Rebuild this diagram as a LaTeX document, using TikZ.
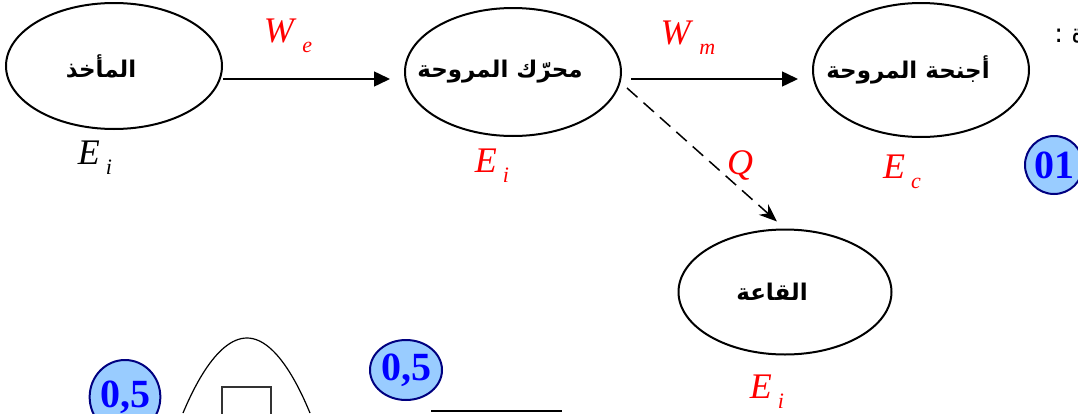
\documentclass[tikz,border=0pt]{standalone}
\usepackage{fontspec}
\setmainfont{Liberation Serif}
\newfontfamily\arabicfont[Script=Arabic]{DejaVu Sans}
\TeXXeTstate=1
\usetikzlibrary{
  arrows.meta,
  shapes.geometric,
  positioning
}
\definecolor{enRed}{HTML}{FF0000}
\definecolor{enBadge}{HTML}{99CCFF}
\definecolor{enNavy}{HTML}{000080}
\definecolor{enBlue}{HTML}{0000FF}
% quantity with a spaced subscript
\newcommand{\enq}[2]{\textit{#1}\kern3pt\raisebox{-0.6ex}{\fontsize{11}{12}\selectfont\textit{#2}}}
% arabic name, set a little left of the centre
\newcommand{\arname}[1]{\beginR #1\endR\hspace*{13pt}}
\tikzset{
  sysnode/.style={
    draw, ellipse, line width=1pt, minimum width=108pt, minimum height=63pt,
    inner xsep=-18pt, inner ysep=0pt, font=\arabicfont\bfseries\fontsize{11.5}{14}\selectfont
  },
  flow/.style={-{Triangle[length=8pt, width=7.5pt]}, line width=0.75pt},
  heat/.style={-{Stealth[length=9pt, width=7pt]}, line width=0.75pt, dash pattern=on 7pt off 4pt},
  qty/.style={font=\fontsize{18}{20}\selectfont, inner sep=0pt},
  redqty/.style={qty, text=enRed},
  badge/.style={
    draw=enNavy, fill=enBadge, line width=1pt, ellipse, inner sep=0pt,
    text=enBlue, font=\bfseries\fontsize{20}{22}\selectfont
  }
}
\begin{document}
\begin{tikzpicture}[x=0.5pt, y=-0.5pt]
  \useasboundingbox (0,0) rectangle (1078,413);
  % energy chain: source -> fan motor -> fan blades
  \node[sysnode] (take) at (114,66) {\arname{المأخذ}};
  \node[sysnode, minimum height=64pt] (motor) at (513,72) {\arname{محرّك المروحة}};
  \node[sysnode, minimum height=67pt] (blades) at (921,70) {\arname{أجنحة المروحة}};
  \node[sysnode, minimum width=106.5pt, minimum height=62.5pt] (hall) at (785,292) {\arname{القاعة}};
  % stored energies
  \node[qty] (eitake) at (95,158) {\enq{E}{i}};
  \node[redqty] (eimotor) at (492,166) {\enq{E}{i}};
  \node[redqty] (ecblades) at (902,172) {\enq{E}{c}};
  \node[redqty] (eihall) at (767,392) {\enq{E}{i}};
  % transfers
  \coordinate (westart) at ([yshift=-6.5pt]take.east);
  \coordinate (wmstart) at ([yshift=-3.5pt]motor.east);
  \draw[flow, shorten >=7pt] (westart) -- (westart -| motor.west);
  \draw[flow, shorten <=4.5pt, shorten >=7pt] (wmstart) -- (wmstart -| blades.west);
  \draw[heat] ([xshift=2.5pt, yshift=-8pt]motor.east) -- ([xshift=-4pt, yshift=3.5pt]hall.north);
  \node[redqty] (we) at (288,36) {\enq{W}{e}};
  \node[redqty] (wm) at (688,38) {\enq{W}{m}};
  \node[redqty] (q) at (740,165) {\textit{Q}};
  % marks
  \node[anchor=west, inner sep=0pt, font=\arabicfont\fontsize{13}{15}\selectfont] (head) at (1054,36) {\beginR ة :\endR};
  \node[badge, minimum width=29pt, minimum height=29pt] (mark1) at (1054,165) {01};
  \node[badge, minimum width=35pt, minimum height=37pt] (mark2) at (125,397) {0,5};
  \node[badge, minimum width=36pt, minimum height=30pt] (mark3) at (406,370) {0,5};
  % start of the next sketch (cut off)
  \draw[line width=0.6pt] (183,413) parabola bend (247,338) (310,413);
  \draw[line width=0.6pt, black!80] (222,387) rectangle (271,420);
  \draw[line width=1.2pt] (431,411) -- (562,411);
\end{tikzpicture}
\end{document}
